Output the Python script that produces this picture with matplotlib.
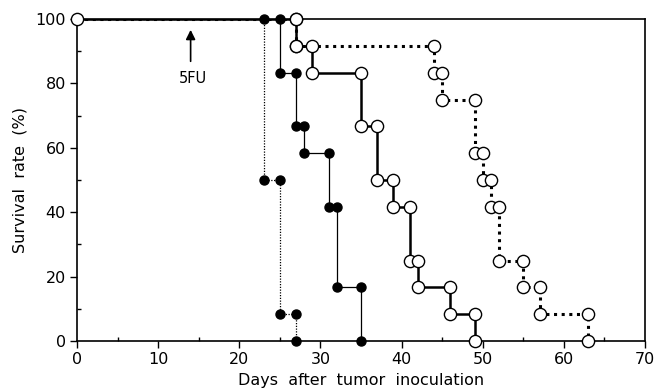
import matplotlib
matplotlib.use("Agg")
import matplotlib.pyplot as plt
from matplotlib.ticker import MultipleLocator

# Survival data: days of death events and survival (%) after each event
s1_days = [23, 25, 27]
s1_surv = [50.0, 8.3, 0.0]

s2_days = [25, 27, 28, 31, 32, 35]
s2_surv = [83.3, 66.7, 58.3, 41.7, 16.7, 0.0]

s3_days = [27, 29, 35, 37, 39, 41, 42, 46, 49]
s3_surv = [91.7, 83.3, 66.7, 50.0, 41.7, 25.0, 16.7, 8.3, 0.0]

s4_days = [27, 44, 45, 49, 50, 51, 52, 55, 57, 63]
s4_surv = [91.7, 83.3, 75.0, 58.3, 50.0, 41.7, 25.0, 16.7, 8.3, 0.0]

x_ticks = [0, 10, 20, 30, 40, 50, 60, 70]
y_ticks = [0, 20, 40, 60, 80, 100]


def step_path(days, surv, start=100.0):
    xs, ys = [0], [start]
    prev = start
    for d, v in zip(days, surv):
        xs += [d, d]
        ys += [prev, v]
        prev = v
    return xs, ys


plt.rcParams['font.family'] = ['DejaVu Sans']
fig = plt.figure(figsize=(6.55, 3.92), dpi=100)
ax = fig.add_axes([0.1176, 0.130, 0.8671, 0.8215])

# series 1: thin dotted, filled
x, y = step_path(s1_days, s1_surv)
ax.plot(x, y, color='black', lw=0.9, ls=(0, (1, 1.2)), zorder=2)
ax.plot(x[1:], y[1:], 'o', ms=6.5, mfc='black', mec='black', zorder=4, clip_on=False)

# series 2: thin solid, filled
x, y = step_path(s2_days, s2_surv)
ax.plot(x, y, color='black', lw=0.9, zorder=2)
ax.plot(x[1:], y[1:], 'o', ms=6.5, mfc='black', mec='black', zorder=4, clip_on=False)

# series 4: thick dotted, open
x, y = step_path(s4_days, s4_surv)
ax.plot(x, y, color='black', lw=2.2, ls=(0, (1, 1.5)), zorder=2)
ax.plot(x[1:], y[1:], 'o', ms=8.8, mfc='white', mec='black', mew=1.0, zorder=3, clip_on=False)

# series 3: thick solid, open
x, y = step_path(s3_days, s3_surv)
ax.plot(x, y, color='black', lw=1.8, zorder=2)
ax.plot(x, y, 'o', ms=8.8, mfc='white', mec='black', mew=1.0, zorder=3, clip_on=False)

ax.set_xlim(0, 70)
ax.set_ylim(0, 100)
ax.set_xticks(x_ticks)
ax.set_yticks(y_ticks)
ax.xaxis.set_minor_locator(MultipleLocator(5))
ax.yaxis.set_minor_locator(MultipleLocator(10))
ax.tick_params(axis='both', which='major', direction='out', length=5, width=1.0,
               labelsize=11.5, pad=3)
ax.tick_params(axis='both', which='minor', direction='in', length=3, width=1.0)
for sp in ax.spines.values():
    sp.set_linewidth(1.2)

ax.set_xlabel('Days  after  tumor  inoculation', fontsize=11.5, labelpad=4)
ax.set_ylabel('Survival  rate  (%)', fontsize=11.5, labelpad=6)

ax.annotate('', xy=(14, 97.5), xytext=(14, 86),
            arrowprops=dict(arrowstyle='-|>', color='black', lw=1.2, mutation_scale=14))
ax.text(14.3, 81.5, '5FU', ha='center', va='center', fontsize=10.5)

fig.savefig('out.png', dpi=100)
